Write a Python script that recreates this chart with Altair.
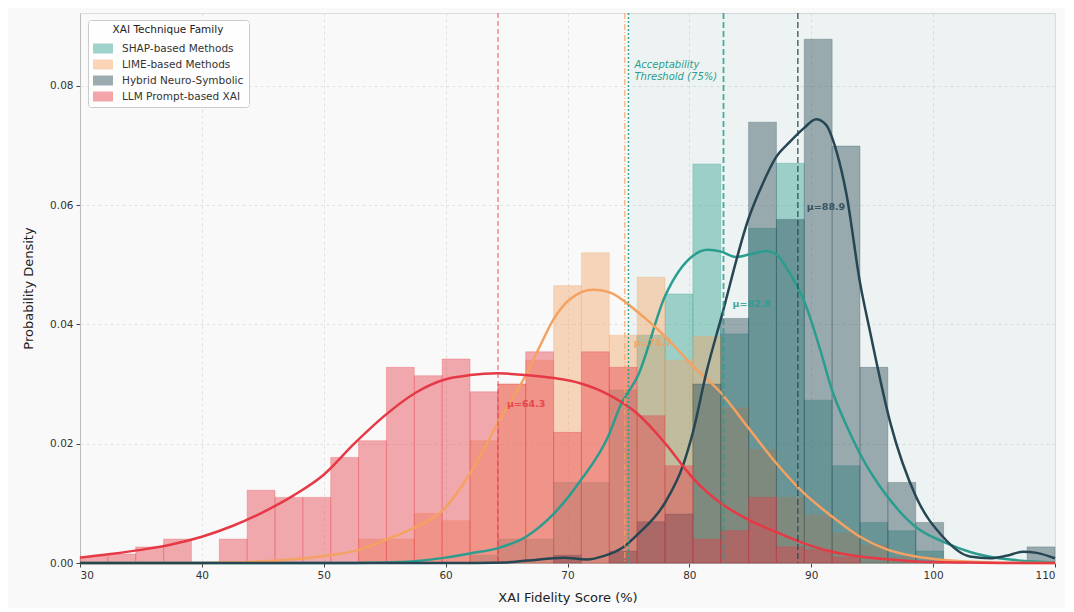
import altair as alt
import numpy as np
import pandas as pd

# ---------------- data ----------------
FAMILIES = ["SHAP-based Methods", "LIME-based Methods", "Hybrid Neuro-Symbolic", "LLM Prompt-based XAI"]
COLORS = ["#2a9d8f", "#f4a261", "#264653", "#e63946"]

X_MIN, X_MAX, N_BINS = 30, 110, 35
Y_MAX = 0.0922
THRESHOLD = 75

# histogram densities (35 bins from 30 to 110)
HIST_SHAP = [0, 0, 0, 0, 0, 0, 0, 0, 0, 0, 0, 0, 0, 0, 0.0013, 0.004, 0.004, 0.0135, 0.0135,
             0.029, 0.0382, 0.0451, 0.0669, 0.0384, 0.0561, 0.067, 0.0273, 0.0163, 0.0068,
             0.0054, 0.002, 0, 0, 0, 0]
HIST_LIME = [0, 0, 0, 0, 0, 0, 0, 0, 0, 0, 0.004, 0.004, 0.0083, 0.0071, 0.0205, 0.030, 0.034,
             0.0465, 0.052, 0.0382, 0.0479, 0.034, 0.038, 0.026, 0.019, 0.011, 0.008, 0.005,
             0.003, 0.001, 0, 0, 0, 0, 0]
HIST_HYBRID = [0, 0, 0, 0, 0, 0, 0, 0, 0, 0, 0, 0, 0, 0, 0, 0, 0, 0.0013, 0, 0.002, 0.0069,
               0.0082, 0.030, 0.041, 0.0739, 0.0576, 0.0878, 0.0699, 0.0328, 0.0135, 0.0068,
               0, 0, 0, 0.0027]
HIST_LLM = [0.0011, 0.0015, 0.0027, 0.0040, 0, 0.0040, 0.0122, 0.0110, 0.0110, 0.0177, 0.0205,
            0.0328, 0.0314, 0.0342, 0.0287, 0.030, 0.0354, 0.0219, 0.0354, 0.0328, 0.0247,
            0.0163, 0.0040, 0.0054, 0.0110, 0.0027, 0.0022, 0.001, 0, 0, 0, 0, 0, 0, 0]

# KDE curves
KDE_SHAP_X = [30, 50, 55, 57.4, 60, 62, 64.3, 66.6, 68.9, 71.1, 73.4, 74.3, 75.8, 78, 80.3, 81.5,
              82.6, 83.8, 84.9, 86.3, 87.1, 88.2, 89.4, 90.7, 91.7, 92.9, 94, 96.3, 98.6, 100.9,
              103.1, 105.4, 110]
KDE_SHAP_Y = [0, 0, 0.0001, 0.0003, 0.0009, 0.0016, 0.0025, 0.0044, 0.0083, 0.0139, 0.0215,
              0.0262, 0.0315, 0.0447, 0.0515, 0.0525, 0.0522, 0.0513, 0.0517, 0.0523, 0.0518,
              0.0487, 0.0440, 0.0360, 0.0290, 0.0230, 0.0183, 0.0110, 0.0060, 0.0035, 0.0018,
              0.0008, 0.0001]
KDE_LIME_X = [30, 40, 45, 48, 50.5, 52.9, 55.1, 57.4, 59.7, 62, 64.3, 66.6, 67.7, 68.9, 70.2,
              72.1, 73.4, 75.8, 78, 80.3, 82.6, 84.9, 87.1, 89.4, 91.7, 94, 96.3, 98.6, 100.9,
              105, 110]
KDE_LIME_Y = [0, 0, 0.0003, 0.0007, 0.0013, 0.0022, 0.0039, 0.0059, 0.0087, 0.0150, 0.0235,
              0.0316, 0.0362, 0.0410, 0.0442, 0.0458, 0.0454, 0.0420, 0.0380, 0.0330, 0.0285,
              0.0225, 0.0168, 0.0117, 0.0078, 0.0044, 0.0022, 0.0011, 0.0005, 0.0001, 0]
KDE_HYBRID_X = [30, 60, 65, 66.7, 69.7, 71.6, 73, 74.6, 75.7, 78, 79.5, 80.3, 81.4, 82.6, 84.9,
                86, 87.1, 88.2, 89.4, 90.4, 91.2, 92.1, 92.9, 94, 94.8, 96.5, 98.6, 100.8, 103,
                104.7, 106, 107.4, 108.5, 110]
KDE_HYBRID_Y = [0, 0, 0.0001, 0.0004, 0.0009, 0.0006, 0.0012, 0.0027, 0.0047, 0.0101, 0.0165,
                0.0220, 0.0320, 0.0410, 0.0580, 0.0635, 0.0680, 0.0705, 0.0729, 0.0744, 0.0735,
                0.0688, 0.0617, 0.0470, 0.0390, 0.0234, 0.0111, 0.0044, 0.0011, 0.0008, 0.0012,
                0.0019, 0.0017, 0.0008]
KDE_LLM_X = [30, 32.5, 35, 37.5, 40, 42.5, 45, 47.5, 50, 52.5, 55, 57.5, 60, 62, 64.3, 66.6, 68.9,
             71.1, 73.4, 75.7, 78, 80.3, 82.6, 84.9, 87.1, 89.4, 91.7, 94, 96.3, 99, 102, 106, 110]
KDE_LLM_Y = [0.0009, 0.0015, 0.0022, 0.0031, 0.0044, 0.0062, 0.0085, 0.0113, 0.0148, 0.0200,
             0.0247, 0.0285, 0.0308, 0.0315, 0.0318, 0.0315, 0.0310, 0.0301, 0.0282, 0.0251,
             0.0201, 0.0142, 0.0100, 0.0072, 0.0052, 0.0033, 0.0019, 0.0011, 0.0006, 0.0002,
             0.0001, 0, 0]

MEANS = [82.8, 74.7, 88.9, 64.3]
MEAN_LABEL_Y = [0.0434, 0.0368, 0.0597, 0.0267]

# ---------------- tables ----------------
edges = np.linspace(X_MIN, X_MAX, N_BINS + 1)
hist_rows = []
for fam, h in zip(FAMILIES, [HIST_SHAP, HIST_LIME, HIST_HYBRID, HIST_LLM]):
    for i, d in enumerate(h):
        if d > 0:
            hist_rows.append({"family": fam, "x0": edges[i], "x1": edges[i + 1], "density": d})
hist_df = pd.DataFrame(hist_rows)

kde_rows = []
for fam, xs, ys in zip(FAMILIES,
                       [KDE_SHAP_X, KDE_LIME_X, KDE_HYBRID_X, KDE_LLM_X],
                       [KDE_SHAP_Y, KDE_LIME_Y, KDE_HYBRID_Y, KDE_LLM_Y]):
    for x, y in zip(xs, ys):
        kde_rows.append({"family": fam, "x": x, "y": y})
kde_df = pd.DataFrame(kde_rows)

mean_df = pd.DataFrame({"family": FAMILIES, "mean": MEANS, "ly": MEAN_LABEL_Y,
                        "label": [f"μ={m:.1f}" for m in MEANS]})

color_scale = alt.Scale(domain=FAMILIES, range=COLORS)
x_scale = alt.Scale(domain=[X_MIN, X_MAX], nice=False, zero=False)
y_scale = alt.Scale(domain=[0, Y_MAX], nice=False)

x_axis = alt.Axis(values=list(range(30, 111, 10)), title="XAI Fidelity Score (%)", format="d")
y_axis = alt.Axis(values=[0, 0.02, 0.04, 0.06, 0.08], format=".2f", title="Probability Density")

# ---------------- layers ----------------
shade = alt.Chart(pd.DataFrame({"a": [0]})).mark_rect(color="#2a9d8f", opacity=0.06).encode(
    x=alt.X("t0:Q", scale=x_scale, axis=x_axis),
    x2="t1:Q",
    y=alt.Y("b0:Q", scale=y_scale, axis=y_axis),
    y2="b1:Q",
).transform_calculate(t0=str(THRESHOLD), t1=str(X_MAX), b0="0", b1=str(Y_MAX))

bars = alt.Chart(hist_df).mark_rect(fillOpacity=0.42, strokeWidth=0.6, strokeOpacity=0.45).encode(
    x=alt.X("x0:Q", scale=x_scale, axis=x_axis),
    x2="x1:Q",
    y=alt.Y("density:Q", scale=y_scale, axis=y_axis),
    y2=alt.datum(0),
    color=alt.Color("family:N", scale=color_scale, sort=FAMILIES,
                    legend=alt.Legend(
                        title="XAI Technique Family", orient="none", legendX=8, legendY=7,
                        symbolType="M-1,-0.5L1,-0.5L1,0.5L-1,0.5Z", symbolSize=400,
                        symbolOpacity=0.45, symbolStrokeWidth=0,
                        labelFontSize=10.5, labelColor="#333333", titleFontSize=10.5,
                        titleFontWeight="normal", titleColor="#222222", titleAnchor="middle",
                        titlePadding=3, rowPadding=-4, padding=5,
                        fillColor="rgba(255,255,255,0.85)",
                        strokeColor="#cccccc", cornerRadius=3, labelOffset=9)),
    stroke=alt.Stroke("family:N", scale=color_scale, legend=None),
)

lines = alt.Chart(kde_df).mark_line(strokeWidth=2.5, interpolate="monotone").encode(
    x=alt.X("x:Q", scale=x_scale),
    y=alt.Y("y:Q", scale=y_scale),
    color=alt.Color("family:N", scale=color_scale, legend=None),
    detail="family:N",
)

DASHES = [[6, 3], [6, 2, 1, 2], [6, 3], [5, 3]]
WIDTHS = [1.8, 1.2, 1.4, 1.0]
rules = []
for fam, m, col, dash, w in zip(FAMILIES, MEANS, COLORS, DASHES, WIDTHS):
    rules.append(alt.Chart(pd.DataFrame({"m": [m]})).mark_rule(
        color=col, strokeDash=dash, strokeWidth=w, opacity=0.85).encode(
        x=alt.X("m:Q", scale=x_scale)))

thr_rule = alt.Chart(pd.DataFrame({"t": [THRESHOLD]})).mark_rule(
    color="#2a9d8f", strokeDash=[2, 2], strokeWidth=1.5, opacity=0.9).encode(
    x=alt.X("t:Q", scale=x_scale))

mean_text = alt.Chart(mean_df).mark_text(
    align="left", baseline="middle", dx=9, fontSize=9.5, fontWeight="bold", opacity=0.85).encode(
    x=alt.X("mean:Q", scale=x_scale),
    y=alt.Y("ly:Q", scale=y_scale),
    text="label:N",
    color=alt.Color("family:N", scale=color_scale, legend=None),
)

thr_text = alt.Chart(pd.DataFrame({"t": [THRESHOLD], "v": [0.0844],
                                   "s": ["Acceptability\nThreshold (75%)"]})).mark_text(
    align="left", baseline="top", dx=6, fontSize=10, fontStyle="italic",
    color="#2a9d8f", lineBreak="\n", lineHeight=12.5).encode(
    x=alt.X("t:Q", scale=x_scale),
    y=alt.Y("v:Q", scale=y_scale),
    text="s:N",
)

chart = alt.layer(shade, bars, lines, *rules, thr_rule, mean_text, thr_text).properties(
    width=975, height=550,
    autosize=alt.AutoSizeParams(type="none"),
    padding={"left": 72, "top": 5, "right": 10, "bottom": 45},
    background="#f9f9f9",
).configure_view(fill="#f7f7f7", strokeWidth=0).configure(font="DejaVu Sans").configure_axis(
    labelFontSize=10.5, labelColor="#333333", titleFontSize=13, titleFontWeight="normal",
    titleColor="#222222", gridColor="#dcdcdc", gridDash=[3, 3], gridOpacity=0.8,
    domainColor="#bbbbbb", tickColor="#444444", tickSize=4, labelPadding=3,
).configure_axisX(titlePadding=11).configure_axisY(titlePadding=14)

chart.save("out.html", embed_options={"renderer": "svg", "actions": False})
